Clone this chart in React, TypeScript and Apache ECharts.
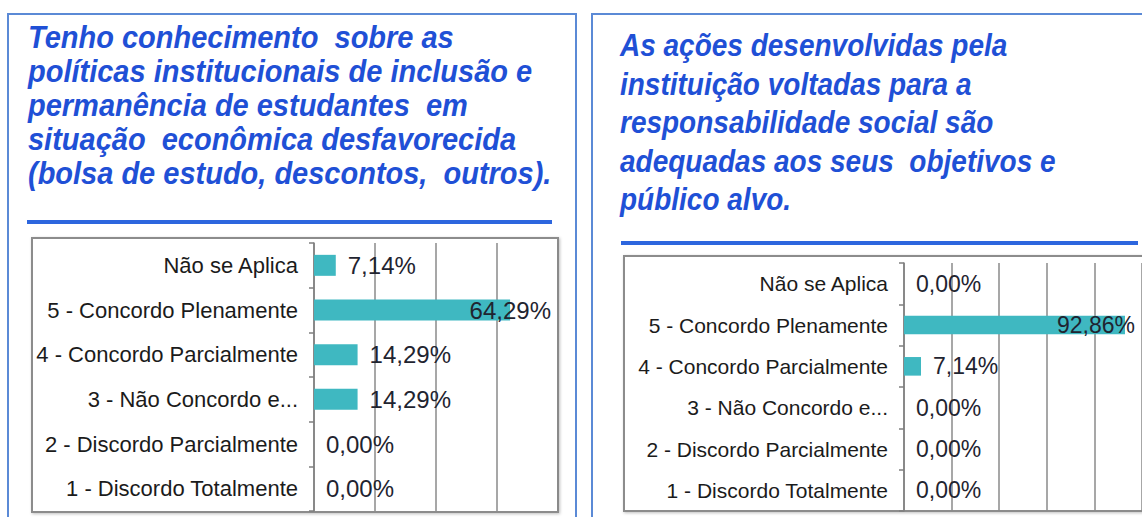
import React, { useEffect, useRef } from 'react';
import * as echarts from 'echarts';

const categories = [
  'Não se Aplica',
  '5 - Concordo Plenamente',
  '4 - Concordo Parcialmente',
  '3 - Não Concordo e...',
  '2 - Discordo Parcialmente',
  '1 - Discordo Totalmente',
];
const leftValues = [7.14, 64.29, 14.29, 14.29, 0.0, 0.0];
const rightValues = [0.0, 92.86, 7.14, 0.0, 0.0, 0.0];
const leftTitle = [
  'Tenho conhecimento  sobre as',
  'políticas institucionais de inclusão e',
  'permanência de estudantes  em',
  'situação  econômica desfavorecida',
  '(bolsa de estudo, descontos,  outros).',
];
const rightTitle = [
  'As ações desenvolvidas pela',
  'instituição voltadas para a',
  'responsabilidade social são',
  'adequadas aos seus  objetivos e',
  'público alvo.',
];
const leftMax = 80;
const rightMax = 100;
const tickStep = 20;

const FONT = '"Liberation Sans", Arial, sans-serif';
const BAR = '#3fb8c1';
const TITLE = '#1f50d6';

const fmt = (v: number) => v.toFixed(2).replace('.', ',') + '%';

function seriesData(values: number[], max: number, plotW: number) {
  const ppu = plotW / max;
  return values.map((v) => {
    if (v > max * 0.7) {
      return {
        value: v,
        label: { position: 'insideRight', distance: 5, offset: [(max - v) * ppu - 2, 0] },
      };
    }
    return { value: v };
  });
}

export default function App() {
  const ref = useRef<HTMLDivElement>(null);
  useEffect(() => {
    if (!ref.current) return;
    const chart = echarts.init(ref.current, undefined, { renderer: 'svg' });

    const L = { left: 314, top: 243, width: 244, height: 268 };
    const R = { left: 904, top: 263, width: 238, height: 248 };

    const yAxisBase = (gridIndex: number, fontSize: number) => ({
      type: 'category',
      gridIndex,
      data: categories,
      inverse: true,
      axisLine: { show: true, lineStyle: { color: '#7f7f7f', width: 1.5 } },
      axisTick: { show: true, length: 5, lineStyle: { color: '#7f7f7f', width: 1.5 } },
      axisLabel: { fontSize, color: '#1b1b1b', margin: 16, fontFamily: FONT },
    });
    const xAxisBase = (gridIndex: number, max: number) => ({
      type: 'value',
      gridIndex,
      min: 0,
      max,
      interval: tickStep,
      axisLabel: { show: false },
      axisLine: { show: false },
      axisTick: { show: false },
      splitLine: { show: true, lineStyle: { color: '#8a8a8a', width: 1.5 } },
    });

    const titleTexts = (lines: string[], x: number, ys: number[], size: number, sy: number) =>
      lines.map((t, i) => ({
        type: 'text',
        x,
        y: ys[i],
        scaleY: sy,
        style: {
          text: t,
          font: `italic bold ${size}px ${FONT}`,
          fill: TITLE,
          textAlign: 'left',
          textVerticalAlign: 'middle',
        },
      }));

    chart.setOption({
      animation: false,
      backgroundColor: '#ffffff',
      grid: [
        { ...L, containLabel: false },
        { ...R, containLabel: false },
      ],
      xAxis: [xAxisBase(0, leftMax), xAxisBase(1, rightMax)],
      yAxis: [yAxisBase(0, 22), yAxisBase(1, 21)],
      series: [
        {
          type: 'bar',
          xAxisIndex: 0,
          yAxisIndex: 0,
          data: seriesData(leftValues, leftMax, L.width),
          barWidth: '47%',
          itemStyle: { color: BAR },
          label: {
            show: true,
            position: 'right',
            distance: 12,
            fontSize: 24,
            fontFamily: FONT,
            color: '#1f2430',
            formatter: (p: any) => fmt(p.value),
          },
        },
        {
          type: 'bar',
          xAxisIndex: 1,
          yAxisIndex: 1,
          data: seriesData(rightValues, rightMax, R.width),
          barWidth: '45%',
          itemStyle: { color: BAR },
          label: {
            show: true,
            position: 'right',
            distance: 12,
            fontSize: 23,
            fontFamily: FONT,
            color: '#1f2430',
            formatter: (p: any) => fmt(p.value),
          },
        },
      ],
      graphic: [
        {
          type: 'rect',
          z: -10,
          shape: { x: 8, y: 14, width: 568, height: 520 },
          style: { fill: '#ffffff', stroke: '#5b8ad6', lineWidth: 2 },
        },
        {
          type: 'rect',
          z: -10,
          shape: { x: 592, y: 14, width: 570, height: 520 },
          style: { fill: '#ffffff', stroke: '#5b8ad6', lineWidth: 2 },
        },
        ...titleTexts(leftTitle, 28, [37, 71, 105, 139, 173], 29, 1.05),
        ...titleTexts(rightTitle, 620, [45, 84, 122, 161, 199], 28, 1.1),
        {
          type: 'line',
          shape: { x1: 27, y1: 222, x2: 552, y2: 222 },
          style: { stroke: '#2d66de', lineWidth: 4 },
        },
        {
          type: 'line',
          shape: { x1: 621, y1: 243, x2: 1138, y2: 243 },
          style: { stroke: '#2d66de', lineWidth: 4 },
        },
        {
          type: 'rect',
          z: -5,
          shape: { x: 32, y: 238, width: 526, height: 274 },
          style: {
            fill: '#ffffff',
            stroke: '#8c8c8c',
            lineWidth: 2,
            shadowBlur: 3,
            shadowColor: 'rgba(0,0,0,0.25)',
            shadowOffsetX: 1,
            shadowOffsetY: 1,
          },
        },
        {
          type: 'rect',
          z: -5,
          shape: { x: 624, y: 256, width: 540, height: 255 },
          style: {
            fill: '#ffffff',
            stroke: '#8c8c8c',
            lineWidth: 2,
            shadowBlur: 3,
            shadowColor: 'rgba(0,0,0,0.25)',
            shadowOffsetX: 1,
            shadowOffsetY: 1,
          },
        },
      ],
    });
    return () => chart.dispose();
  }, []);
  return (
    <div
      ref={ref}
      style={{ position: 'absolute', left: 0, top: 0, width: 1142, height: 517 }}
    />
  );
}
